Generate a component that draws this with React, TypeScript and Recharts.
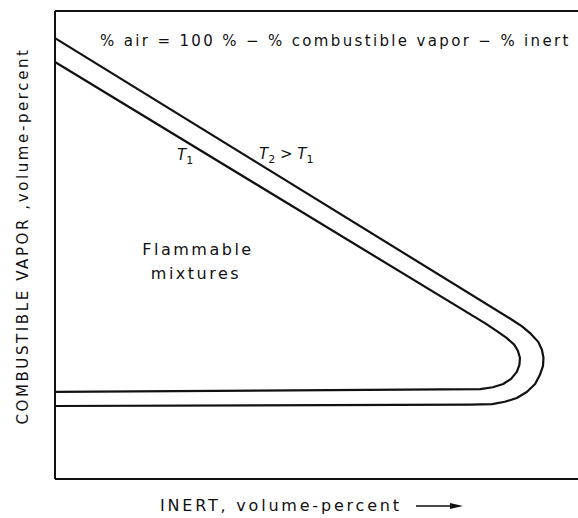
import React from 'react';
import { LineChart, Line, XAxis, YAxis, ReferenceLine } from 'recharts';

// inert % (x) vs combustible vapor % (y)
const t2Inert = [0, 87.0, 89.3, 91.0, 92.4, 93.1, 93.4, 93.3, 92.7, 91.8, 90.2, 88.3, 86.0, 83.6, 79.3, 0];
const t2Vapor = [94.2, 34.3, 32.6, 31.0, 29.3, 27.6, 25.9, 24.1, 22.2, 20.3, 18.6, 17.3, 16.5, 16.0, 15.9, 15.6];

const t1Inert = [0, 82.2, 84.5, 86.4, 87.8, 88.5, 88.9, 88.8, 88.3, 87.2, 85.7, 83.7, 81.3, 0];
const t1Vapor = [89.1, 33.3, 31.6, 30.1, 28.7, 27.4, 25.9, 24.4, 22.9, 21.4, 20.3, 19.6, 19.2, 18.6];

const titleText = '% air = 100 % \u2212 % combustible  vapor \u2212 % inert';
const xLabel = 'INERT, volume-percent';
const yLabel = 'COMBUSTIBLE  VAPOR ,volume-percent';

const t2Data = t2Inert.map((x, i) => ({ x, y: t2Vapor[i] }));
const t1Data = t1Inert.map((x, i) => ({ x, y: t1Vapor[i] }));

const ink = '#111';
const font = '"DejaVu Sans", "Noto Sans", sans-serif';

const txt = (extra: React.CSSProperties): React.CSSProperties => ({
  position: 'absolute',
  fontFamily: font,
  fontSize: 15,
  color: ink,
  whiteSpace: 'nowrap',
  lineHeight: 1,
  ...extra,
});

const sub: React.CSSProperties = { fontSize: 11, fontStyle: 'normal' };

export default function App() {
  return (
    <div style={{ position: 'absolute', left: 0, top: 0, width: 578, height: 518, background: '#fff' }}>
      <LineChart width={578} height={518} margin={{ top: 11, right: 0, bottom: 39, left: 55 }}>
        <XAxis type="number" dataKey="x" domain={[0, 100]} hide />
        <YAxis type="number" dataKey="y" domain={[0, 100]} hide />
        <ReferenceLine x={0} stroke={ink} strokeWidth={2} />
        <ReferenceLine y={0} stroke={ink} strokeWidth={2} />
        <ReferenceLine y={100} stroke={ink} strokeWidth={2} />
        <Line data={t2Data} dataKey="y" type="linear" stroke={ink} strokeWidth={2.2} strokeLinejoin="round" dot={false} isAnimationActive={false} />
        <Line data={t1Data} dataKey="y" type="linear" stroke={ink} strokeWidth={2.2} strokeLinejoin="round" dot={false} isAnimationActive={false} />
      </LineChart>

      <div style={txt({ left: 100, top: 34, letterSpacing: 2.35 })}>{titleText}</div>

      <div style={txt({ left: 177, top: 148, fontStyle: 'italic' })}>
        T<sub style={sub}>1</sub>
      </div>
      <div style={txt({ left: 259, top: 147, fontStyle: 'italic' })}>
        T<sub style={sub}>2</sub> {'>'} T<sub style={sub}>1</sub>
      </div>

      <div style={txt({ left: 198, top: 250, transform: 'translate(-50%, -50%)', letterSpacing: 2.5, fontSize: 16 })}>Flammable</div>
      <div style={txt({ left: 196, top: 274, transform: 'translate(-50%, -50%)', letterSpacing: 2.5, fontSize: 16 })}>mixtures</div>

      <div style={txt({ left: 160, top: 498, fontSize: 16, letterSpacing: 2.8 })}>{xLabel}</div>
      <svg style={{ position: 'absolute', left: 416, top: 500 }} width={50} height={12}>
        <line x1={0} y1={6} x2={38} y2={6} stroke={ink} strokeWidth={1.6} />
        <polygon points="34,3 47,6 34,9" fill={ink} />
      </svg>

      <div style={txt({ left: 23, top: 236, transform: 'translate(-50%, -50%) rotate(-90deg)', letterSpacing: 2.6 })}>{yLabel}</div>
    </div>
  );
}
